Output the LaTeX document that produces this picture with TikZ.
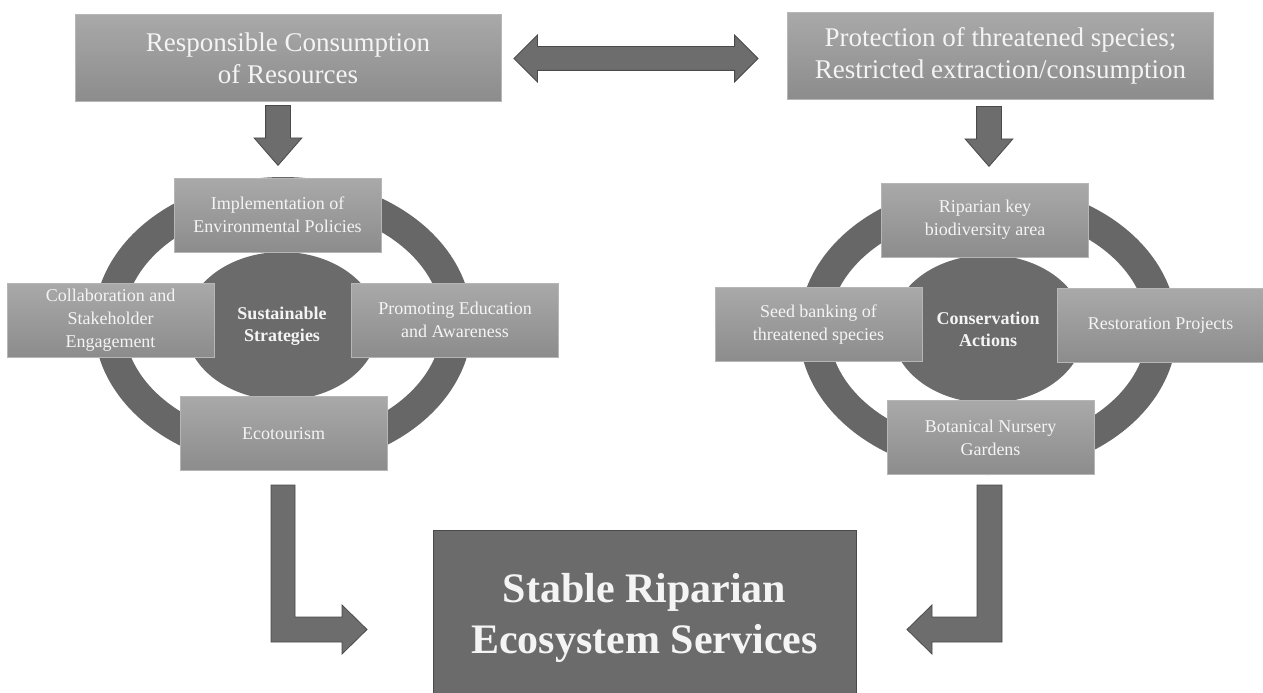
\documentclass[tikz,border=0pt]{standalone}
\usepackage{fontspec}
\setmainfont{Liberation Serif}
\usetikzlibrary{shapes.arrows,shapes.geometric}
\definecolor{boxtop}{HTML}{A9A9A9}
\definecolor{boxbot}{HTML}{8C8C8C}
\definecolor{boxline}{HTML}{B6B6B6}
\definecolor{ringgray}{HTML}{676767}
\definecolor{hubgray}{HTML}{6B6B6B}
\definecolor{arrowgray}{HTML}{6D6D6D}
\definecolor{arrowline}{HTML}{4A4A4A}
\definecolor{textwhite}{HTML}{F4F4F4}
\tikzset{
    Box/.style = {draw=boxline, top color=boxtop, bottom color=boxbot,
                  text=textwhite, align=center, inner sep=2pt},
    TopBox/.style = {Box, minimum width=426pt, minimum height=87pt,
                     font=\fontsize{27}{32}\selectfont},
    ActionBox/.style = {Box, minimum width=207pt, minimum height=74pt,
                        font=\fontsize{18}{23}\selectfont},
    Hub/.style = {ellipse, fill=hubgray, minimum width=193pt, minimum height=148pt,
                  inner sep=0pt, text=textwhite, align=center,
                  font=\fontsize{18}{22}\selectfont\bfseries},
    Ring/.style = {draw=ringgray, line width=30pt},
    FatArrow/.style = {fill=arrowgray, draw=arrowline, line width=0.8pt},
    DownArrow/.style = {FatArrow, single arrow, rotate=-90, anchor=tail,
                        minimum height=60pt, minimum width=47pt,
                        single arrow head extend=11.5pt, single arrow tip angle=82,
                        inner xsep=0pt, inner ysep=12pt}
}
\begin{document}
\begin{tikzpicture}[x=1pt,y=-1pt]
    \useasboundingbox (0,0) rectangle (1263,693);
    % rings behind the two hubs
    \draw[Ring] (283,323) ellipse [x radius=174, y radius=131];
    \draw[Ring] (988,329) ellipse [x radius=174, y radius=131];
    \node[Hub] (strat) at (282,326) {Sustainable\\Strategies};
    \node[Hub] (cons) at (988,329) {Conservation\\Actions};
    % top row
    \node[TopBox] (resp) at (288,58) {Responsible Consumption\\of Resources};
    \node[TopBox] (prot) at (1000.5,56) {Protection of threatened species;\\Restricted extraction/consumption};
    \node[FatArrow, double arrow, minimum height=244pt, minimum width=46pt,
          double arrow head extend=11.5pt, inner xsep=0pt, inner ysep=11.5pt]
          (link) at (636,58.5) {};
    \node[DownArrow] (down1) at (278,105) {};
    \node[DownArrow] (down2) at (989,106) {};
    % left cycle
    \node[ActionBox] (policy) at (277.5,215) {Implementation of\\Environmental Policies};
    \node[ActionBox] (collab) at (110.5,320) {Collaboration and\\Stakeholder\\Engagement};
    \node[ActionBox] (educ) at (455,320) {Promoting Education\\and Awareness};
    \node[ActionBox] (eco) at (283.5,433.5) {Ecotourism};
    % right cycle
    \node[ActionBox] (kba) at (985,220) {Riparian key\\biodiversity area};
    \node[ActionBox] (seed) at (818.5,324.5) {Seed banking of\\threatened species};
    \node[ActionBox] (resto) at (1160.5,325.5) {Restoration Projects};
    \node[ActionBox] (nursery) at (990.5,437.5) {Botanical Nursery\\Gardens};
    % outcome
    \node[draw=arrowline, fill=hubgray, minimum width=423pt, minimum height=176pt,
          text=textwhite, align=center, font=\fontsize{42}{51}\selectfont\bfseries]
          (stable) at (644.5,618) {Stable Riparian\\Ecosystem Services};
    % bent arrows into the outcome box
    \coordinate (lbend) at (271,485);
    \coordinate (rbend) at (1002,485);
    \filldraw[FatArrow] (lbend) -- ++(24,0) -- ++(0,132) -- ++(47,0) -- ++(0,-12)
        -- ++(25,24.5) -- ++(-25,24.5) -- ++(0,-12) -- ++(-71,0) -- cycle;
    \filldraw[FatArrow] (rbend) -- ++(-25,0) -- ++(0,132) -- ++(-45,0) -- ++(0,-12)
        -- ++(-25,24.5) -- ++(25,24.5) -- ++(0,-12) -- ++(70,0) -- cycle;
\end{tikzpicture}
\end{document}
